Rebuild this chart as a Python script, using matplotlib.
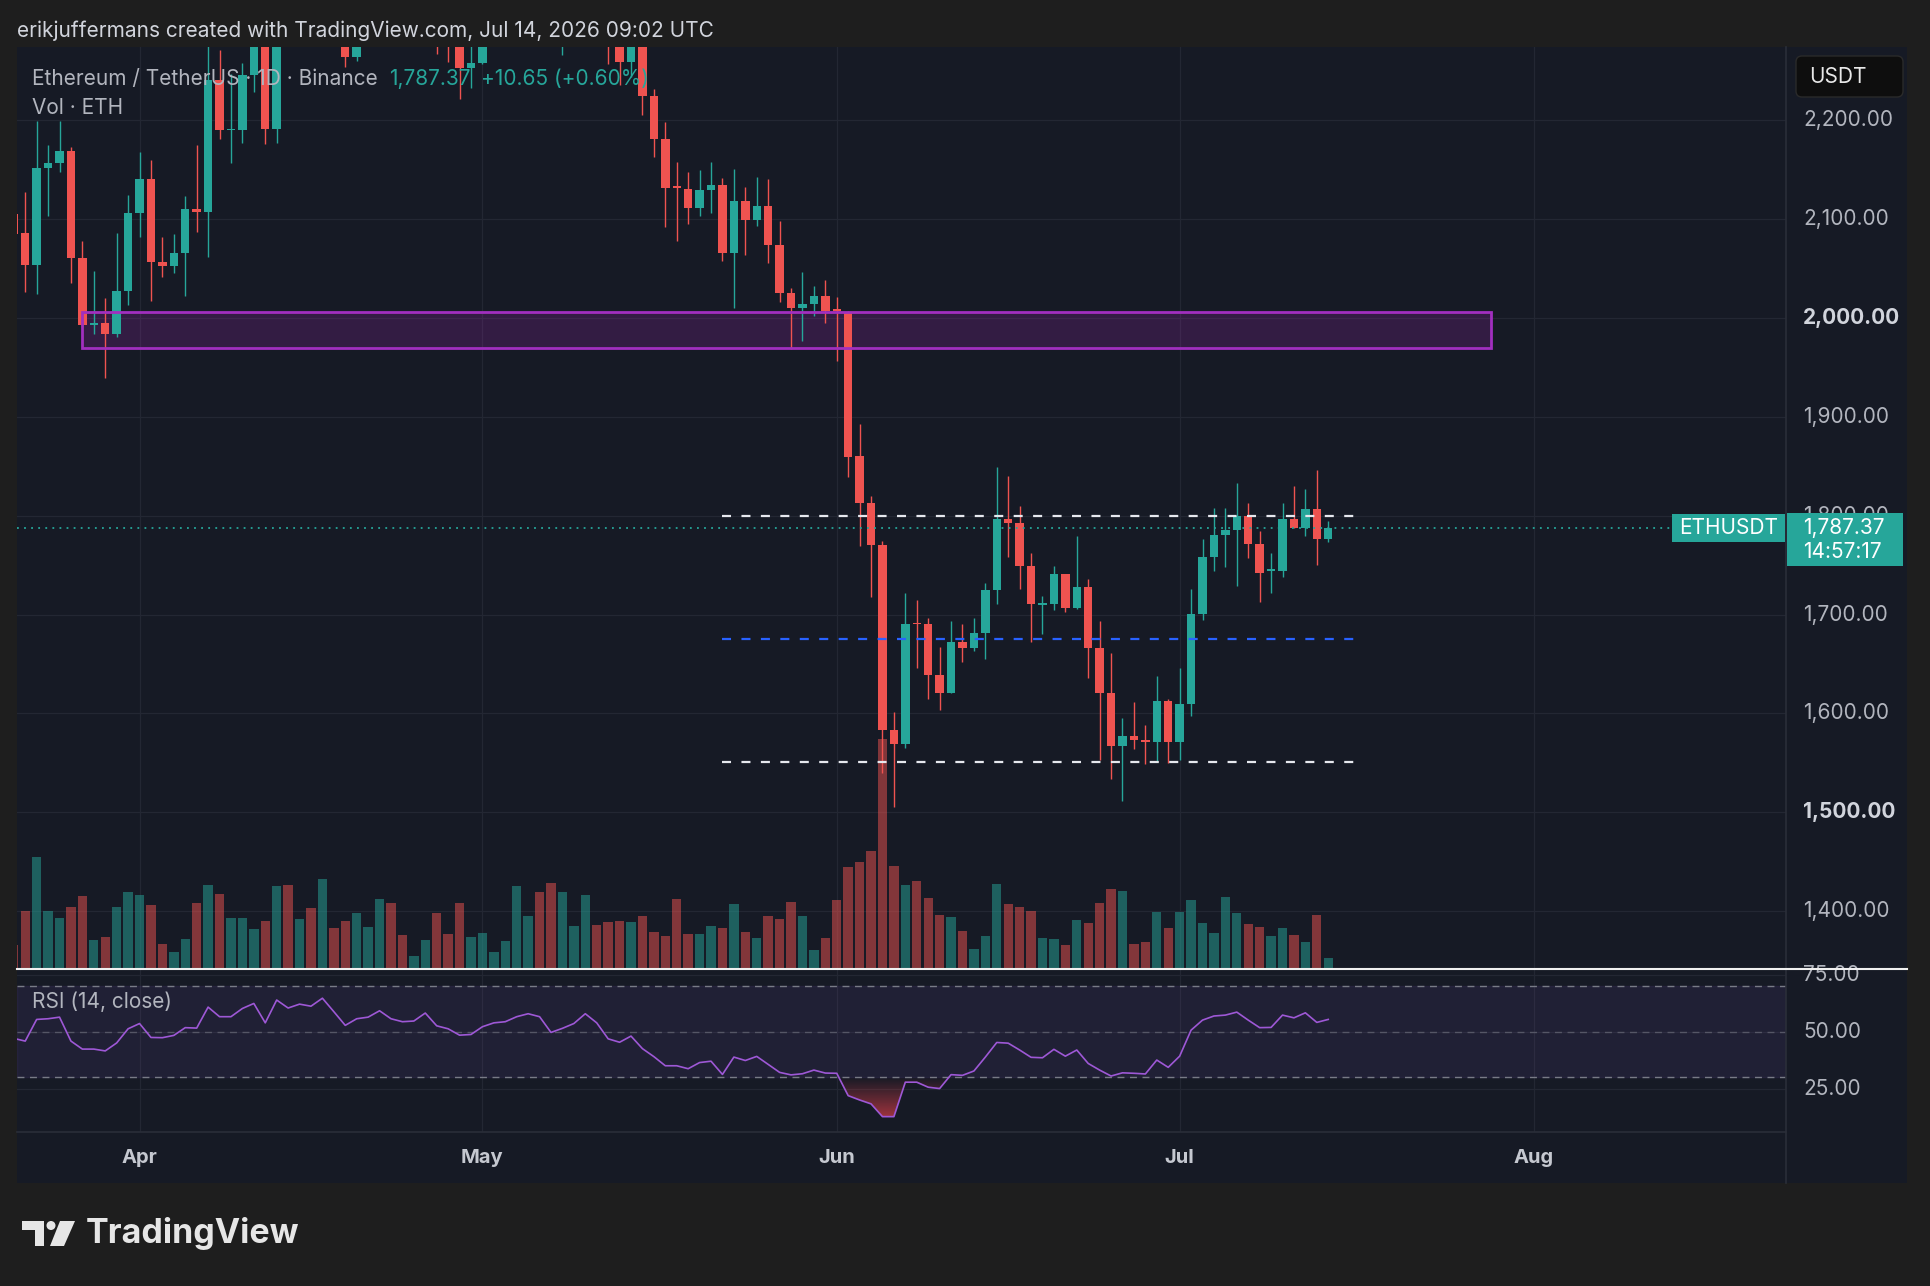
import numpy as np
import pandas as pd
import matplotlib
matplotlib.use("Agg")
import matplotlib.pyplot as plt
import matplotlib.dates as mdates
from matplotlib.patches import Rectangle, FancyBboxPatch, Polygon, Circle
from matplotlib.transforms import blended_transform_factory as blend
from matplotlib.path import Path

plt.rcParams['font.family'] = ['Inter', 'DejaVu Sans']
plt.rcParams['lines.scale_dashes'] = False

# ---------------- data ----------------
dates = pd.date_range("2026-03-21", "2026-07-14", freq="D")

opens = [2105, 2085.4, 2053.4, 2151.8, 2156.2, 2168.7, 2060.1, 1992.4, 1994.4, 1983.6,
         2027.1, 2105.6, 2140, 2056.8, 2052.7, 2065.2, 2109.7, 2107, 2240.4, 2189.9,
         2189.5, 2245.5, 2300, 2191, 2310, 2290, 2330, 2300, 2370, 2340,
         2263.4, 2310, 2330, 2380, 2340, 2320, 2325, 2355, 2300, 2285,
         2252.2, 2257.3, 2300, 2315, 2335, 2380, 2395, 2370, 2330, 2350,
         2365, 2410, 2385, 2340, 2259, 2300, 2224.3, 2180.8, 2132.6, 2130.2,
         2111.4, 2129.2, 2134.3, 2065.2, 2118.1, 2098.9, 2113, 2073.6, 2024.8, 2009.6,
         2014, 2022.4, 2008.6, 2006.2, 1860.3, 1812.4, 1770.3, 1583.3, 1568.8, 1691.8,
         1690.4, 1638.9, 1621, 1672.6, 1665.8, 1681, 1724.8, 1796.3, 1792.9, 1749.4,
         1710, 1710.7, 1741, 1706.3, 1728.2, 1666.5, 1621, 1567, 1577.5, 1573.1,
         1571.4, 1612.5, 1571.4, 1609.2, 1700.5, 1757.8, 1780.4, 1785.4, 1799.6, 1770.9,
         1744.3, 1744.3, 1796.5, 1787.1, 1806.3, 1776.72]
highs = [2120, 2126.9, 2199, 2174.7, 2199, 2172.4, 2077.3, 2047.3, 2019.7, 2085.4,
         2124.2, 2167.6, 2159.6, 2081.4, 2084.4, 2123.5, 2174.4, 2290, 2270.8, 2247,
         2258, 2315, 2310, 2325, 2340, 2345, 2350, 2395, 2385, 2350,
         2320, 2345, 2400, 2395, 2355, 2335, 2370, 2365, 2310, 2295,
         2285, 2310, 2325, 2345, 2400, 2410, 2420, 2385, 2360, 2375,
         2425, 2420, 2395, 2350, 2310, 2310, 2231, 2197.6, 2157.2, 2147,
         2149.4, 2157.2, 2141.7, 2150.5, 2132.6, 2142.7, 2140.3, 2097.9, 2030.5, 2046.7,
         2032.2, 2038.2, 2021.4, 2007, 1892.6, 1820.2, 1774.7, 1601.1, 1721.4, 1714.7,
         1696.8, 1667.5, 1693.5, 1690.4, 1696.8, 1732.2, 1849.5, 1840.1, 1810, 1761.9,
         1719.1, 1749.4, 1741, 1779.4, 1735.7, 1693.5, 1660.7, 1595, 1611.2, 1588.3,
         1637.8, 1614.5, 1646.2, 1725.4, 1776, 1807.3, 1807.3, 1833.3, 1813, 1784.4,
         1761.8, 1812.4, 1829.9, 1826.5, 1846.1, 1794.5]
lows = [2070, 2026.4, 2023.7, 2103.3, 2147, 2034.9, 1991, 1983.6, 1939.5, 1981,
        2013, 2082, 2017.3, 2041.6, 2045, 2022, 2087, 2061, 2180.5, 2157,
        2176.4, 2228.6, 2175.4, 2176.4, 2280, 2282, 2285, 2290, 2300, 2253.9,
        2260, 2290, 2315, 2320, 2300, 2305, 2310, 2266.7, 2259, 2220.9,
        2232, 2257, 2290, 2300, 2325, 2365, 2360, 2300, 2265.7, 2335,
        2355, 2370, 2257, 2235.4, 2243.8, 2205, 2163, 2092.2, 2077.7, 2094.5,
        2103.3, 2105.6, 2057.8, 2009.6, 2063.5, 2092.8, 2055.8, 2016.3, 1968.1, 1976.6,
        2002.2, 1994.4, 1956.3, 1839.4, 1769.6, 1718.1, 1540.1, 1505.8, 1564.7, 1645.6,
        1614.3, 1603.5, 1621, 1652.4, 1663.1, 1655, 1710.3, 1758.5, 1725.8, 1671.9,
        1680, 1704.6, 1703, 1706, 1636.2, 1553, 1533.3, 1511.8, 1563.7, 1548.5,
        1551.2, 1550.2, 1552.9, 1597.4, 1694.4, 1744.3, 1748.3, 1729.1, 1757.4, 1713,
        1722, 1738.2, 1787, 1779.7, 1750, 1773.6]
closes = [2085, 2053.4, 2151.8, 2156.2, 2168.7, 2060.1, 1992.7, 1994.4, 1983.6, 2027.1,
          2105.6, 2140, 2056.8, 2052.7, 2065.2, 2109.7, 2107, 2240.4, 2189.9, 2191,
          2245.5, 2300, 2191, 2310, 2290, 2330, 2300, 2370, 2340, 2263.4,
          2310, 2330, 2380, 2340, 2320, 2325, 2355, 2300, 2285, 2252.2,
          2257.3, 2300, 2315, 2335, 2380, 2395, 2370, 2330, 2350, 2365,
          2410, 2385, 2340, 2259, 2300, 2224.3, 2180.8, 2130.9, 2131.6, 2111.4,
          2129.2, 2134.3, 2065.2, 2118.1, 2098.9, 2113, 2073.6, 2024.8, 2009.6, 2014,
          2022.4, 2007.2, 2007.2, 1859.6, 1812.4, 1770.3, 1583.3, 1568.8, 1690.4, 1690.4,
          1638.9, 1621, 1672.6, 1665.8, 1681, 1724.8, 1796.3, 1792.9, 1749.4, 1710.7,
          1711.4, 1741, 1706.3, 1728.2, 1666.5, 1621, 1567, 1577.5, 1573.1, 1571.4,
          1612.5, 1571.4, 1609.2, 1700.5, 1757.8, 1780.4, 1785.4, 1799.6, 1770.9, 1742.3,
          1745.6, 1796.5, 1787.1, 1806.3, 1776.72, 1787.37]
volume_k = [73, 173, 336, 175, 153, 187, 218, 87, 95, 187,
            232, 221, 192, 76, 50, 90, 198, 253, 224, 153,
            153, 121, 143, 250, 253, 150, 182, 271, 124, 143,
            167, 126, 211, 198, 103, 40, 87, 167, 106, 198,
            95, 108, 50, 85, 250, 158, 232, 258, 232, 129,
            221, 132, 140, 145, 142, 160, 111, 98, 211, 106,
            106, 129, 124, 195, 111, 92, 158, 150, 200, 158,
            56, 92, 208, 305, 321, 355, 690, 308, 253, 263,
            213, 161, 155, 113, 61, 100, 256, 195, 185, 175,
            92, 90, 71, 146, 137, 198, 241, 235, 74, 80,
            172, 124, 172, 206, 137, 109, 216, 169, 134, 126,
            98, 122, 101, 80, 163, 32]
rsi = [47.1, 45.9, 55.4, 55.7, 56.4, 45.9, 42.4, 42.4, 41.6, 45.1,
       51.3, 53.6, 47.5, 47.4, 48.4, 51.8, 51.6, 60.8, 56.6, 56.6,
       60.2, 62.4, 53.9, 63.9, 60.4, 62.1, 61.2, 64.7, 58.8, 52.8,
       55.7, 56.4, 59.2, 55.7, 54.4, 54.7, 58.2, 52.6, 51.3, 48.5,
       48.8, 52.2, 53.9, 54.4, 56.6, 57.9, 56.6, 49.7, 51.5, 53.6,
       57.9, 53.9, 46.9, 45.4, 48.1, 42.6, 39.1, 35.1, 35.1, 33.8,
       36.5, 37.1, 31.3, 38.9, 37.4, 39.2, 35.7, 32.2, 31.1, 31.6,
       33.2, 31.9, 31.8, 22.0, 20.1, 18.4, 12.8, 12.8, 27.9, 27.9,
       25.7, 25.1, 31.2, 30.9, 32.8, 38.9, 45.3, 45.0, 42.0, 38.8,
       38.6, 42.3, 39.3, 42.0, 36.1, 33.2, 30.6, 32.0, 31.8, 31.5,
       37.6, 34.4, 39.3, 50.7, 55.1, 56.9, 57.3, 58.6, 55.1, 51.8,
       51.9, 57.3, 56.1, 58.3, 54.1, 55.4]

price_ticks = [1400, 1500, 1600, 1700, 1800, 1900, 2000, 2100, 2200]
bold_ticks = [1500, 2000]
rsi_ticks = [25, 50, 75]
month_dates = pd.to_datetime(["2026-04-01", "2026-05-01", "2026-06-01", "2026-07-01", "2026-08-01"])
month_labels = ["Apr", "May", "Jun", "Jul", "Aug"]

zone_low, zone_high = 1969.0, 2006.0
zone_start = pd.Timestamp("2026-03-27")
zone_end = pd.Timestamp("2026-07-28 05:00")
range_levels = [1800.0, 1675.5, 1551.0]
range_colors = ["#e6e8ee", "#2962ff", "#e6e8ee"]
range_start = pd.Timestamp("2026-05-22")
range_end = pd.Timestamp("2026-07-17")
last_price = 1787.37
prev_close = 1776.72
countdown = "14:57:17"

# ---------------- style ----------------
OUTER = "#1e1e1e"
PANE = "#161a25"
GRID = "#232733"
SEP = "#2a2e39"
UP = "#26a69a"
DOWN = "#ef5350"
TXT = "#b2b5be"
W, H = 1930, 1286
FS = 15
FT = 15

fig = plt.figure(figsize=(W / 100, H / 100), dpi=100, facecolor=OUTER)

def frac_rect(x0, y0, x1, y1):
    return [x0 / W, 1 - y1 / H, (x1 - x0) / W, (y1 - y0) / H]

PL, PR = 17, 1786
MT, MB = 47, 969
RB = 1132
PANEL_R, PANEL_B = 1907, 1183

bg = fig.add_axes([0, 0, 1, 1])
bg.set_xlim(0, W); bg.set_ylim(H, 0); bg.axis('off')
bg.add_patch(Rectangle((PL, MT), PANEL_R - PL, PANEL_B - MT, facecolor=PANE, edgecolor='none'))

vol_ax = fig.add_axes(frac_rect(PL, MT, PR, MB))
vol_ax.set_facecolor('none'); vol_ax.axis('off')
ax = fig.add_axes(frac_rect(PL, MT, PR, MB), sharex=vol_ax)
ax.set_facecolor('none'); ax.axis('off')
rax = fig.add_axes(frac_rect(PL, MB, PR, RB), sharex=vol_ax)
rax.set_facecolor('none'); rax.axis('off')

x = mdates.date2num(dates)
o = np.array(opens); h = np.array(highs); l = np.array(lows); c = np.array(closes)
up = c >= o
ccol = np.where(up, UP, DOWN)

x_apr = mdates.date2num(pd.Timestamp("2026-04-01"))
xlim = (x_apr - 10.72, x_apr + 144.05)
vol_ax.set_xlim(*xlim)
ax.set_ylim(1341.6, 2273.8)
vol_ax.set_ylim(0, 2766)
rax.set_ylim(6.07, 77.5)

# grid
Tg = blend(vol_ax.transAxes, ax.transData)
for p in price_ticks:
    vol_ax.plot([0, 1], [p, p], transform=Tg, color=GRID, lw=0.9, zorder=0)
for m in month_dates:
    vol_ax.axvline(mdates.date2num(m), color=GRID, lw=0.9, zorder=0)
    rax.axvline(mdates.date2num(m), color=GRID, lw=0.9, zorder=0)
for r in rsi_ticks:
    rax.axhline(r, color=GRID, lw=0.9, zorder=0)

# volume
vcol = np.where(up, UP, DOWN)
vol_ax.bar(x, volume_k, width=0.82, color=vcol, alpha=0.5, linewidth=0, zorder=1)

# zone
zx0 = mdates.date2num(zone_start)
zw = mdates.date2num(zone_end) - zx0
ax.add_patch(Rectangle((zx0, zone_low), zw, zone_high - zone_low, facecolor="#9c27b0",
                       alpha=0.22, edgecolor='none', zorder=1))
ax.add_patch(Rectangle((zx0, zone_low), zw, zone_high - zone_low, facecolor='none',
                       edgecolor="#a12fbf", lw=2.0, zorder=4))

# candles
ax.vlines(x, l, h, colors=ccol, lw=1.0, zorder=3)
body_lo = np.minimum(o, c)
body_h = np.maximum(np.abs(c - o), 1.2)
ax.bar(x, body_h, bottom=body_lo, width=0.74, color=ccol, linewidth=0, zorder=3)

# range lines
for lev, col in zip(range_levels, range_colors):
    ax.plot([mdates.date2num(range_start), mdates.date2num(range_end)], [lev, lev],
            color=col, lw=1.6, linestyle=(0, (6.5, 7.5)), zorder=5)

# last price dotted line
Tl = blend(ax.transAxes, ax.transData)
ax.plot([0, 0.9356], [last_price, last_price], transform=Tl, color=UP, lw=1.3,
        linestyle=(0, (1.3, 3.8)), zorder=5, clip_on=False)

# price axis labels
for p in price_ticks:
    bold = p in bold_ticks
    ax.text(1.0096, p, f"{p:,.2f}", transform=Tl, ha='left', va='center',
            fontsize=FS, color="#d1d4dc" if bold else TXT,
            fontweight='bold' if bold else 'normal', clip_on=False, zorder=6)

# last price labels
ax.add_patch(Rectangle((1.0006, 1748.9), 0.0656, 53.6, transform=Tl, facecolor=UP,
                       edgecolor='none', clip_on=False, zorder=8))
ax.text(1.0096, last_price, f"{last_price:,.2f}", transform=Tl, ha='left', va='center',
        fontsize=FS, color='white', clip_on=False, zorder=9)
ax.text(1.0096, last_price - 24.3, countdown, transform=Tl, ha='left', va='center',
        fontsize=FS, color='white', clip_on=False, zorder=9)
ax.add_patch(Rectangle((0.9356, 1773.0), 0.0638, 28.8, transform=Tl, facecolor=UP,
                       edgecolor='none', clip_on=False, zorder=8))
ax.text(0.9675, last_price, "ETHUSDT", transform=Tl, ha='center', va='center',
        fontsize=FS, color='white', clip_on=False, zorder=9)

# RSI pane
rx = x
rv = np.array(rsi)
rax.axhspan(30, 70, color="#7e57c2", alpha=0.10, zorder=0.5)
rax.axhline(70, color="#787b86", lw=1.0, linestyle=(0, (5, 4)), zorder=1)
rax.axhline(30, color="#787b86", lw=1.0, linestyle=(0, (5, 4)), zorder=1)
rax.axhline(50, color="#787b86", lw=1.0, alpha=0.55, linestyle=(0, (5, 4)), zorder=1)
fb = rax.fill_between(rx, rv, 30, where=rv < 30, interpolate=True,
                      facecolor='none', edgecolor='none')
paths = fb.get_paths()
if len(paths):
    cp = Path.make_compound_path(*paths)
    rgba = np.zeros((256, 1, 4))
    rgba[..., 0] = 0.94; rgba[..., 1] = 0.26; rgba[..., 2] = 0.30
    rgba[..., 3] = np.linspace(0.8, 0.0, 256)[:, None]
    im = rax.imshow(rgba, extent=[rx[0], rx[-1], 8, 30], origin='lower',
                    aspect='auto', zorder=2, interpolation='bilinear')
    im.set_clip_path(cp, transform=rax.transData)
rax.plot(rx, rv, color="#9e58d6", lw=1.2, zorder=3)
rax.set_xlim(*xlim)
rax.set_ylim(6.07, 77.5)

Tr = blend(rax.transAxes, rax.transData)
for r in rsi_ticks:
    rax.text(1.0096, r, f"{r:.2f}", transform=Tr, ha='left', va='center',
             fontsize=FS, color=TXT, clip_on=False, zorder=4)
Tm = blend(rax.transData, rax.transAxes)
for m, lab in zip(month_dates, month_labels):
    rax.text(mdates.date2num(m), -0.16, lab, transform=Tm, ha='center', va='center',
             fontsize=14.5, color="#c5c8d0", fontweight='bold', clip_on=False)

# overlay
ov = fig.add_axes([0, 0, 1, 1])
ov.set_xlim(0, W); ov.set_ylim(H, 0); ov.axis('off')
ov.plot([PR, PR], [MT, PANEL_B], color=SEP, lw=1.2)
ov.plot([PL, PR], [RB, RB], color=SEP, lw=1.2)
ov.plot([PL, PANEL_R], [MB, MB], color="#f0f0f0", lw=1.5)
ov.add_patch(FancyBboxPatch((1796, 56), 107, 41, boxstyle="round,pad=0,rounding_size=6",
                            facecolor="#0e0e0e", edgecolor="#2a2a2a", lw=1))
ov.text(1809, 77, "USDT", ha='left', va='center', fontsize=FS, color="#e8e8e8")

ov.text(17, 31, "erikjuffermans created with TradingView.com, Jul 14, 2026 09:02 UTC",
        ha='left', va='center', fontsize=FT, color="#d1d4dc")
ov.text(32, 79, "Ethereum / TetherUS · 1D · Binance", ha='left', va='center',
        fontsize=FT, color=TXT)
chg = last_price - prev_close
ov.text(389, 79, f"{last_price:,.2f}", ha='left', va='center', fontsize=FT, color=UP)
ov.text(481, 79, f"+{chg:.2f} (+{chg / prev_close * 100:.2f}%)", ha='left', va='center',
        fontsize=FT, color=UP)
ov.text(32, 108, "Vol · ETH", ha='left', va='center', fontsize=FT, color=TXT)
ov.text(32, 1002, "RSI (14, close)", ha='left', va='center', fontsize=FT, color=TXT)

# TradingView logo
LOGO = "#e6e6e6"
ov.add_patch(Polygon([(22, 1221), (44, 1221), (44, 1246), (35, 1246), (35, 1230), (22, 1230)],
                     closed=True, facecolor=LOGO, edgecolor='none'))
ov.add_patch(Circle((51, 1225.5), 4.5, facecolor=LOGO, edgecolor='none'))
ov.add_patch(Polygon([(60, 1221), (75, 1221), (64, 1246), (50, 1246)], closed=True,
                     facecolor=LOGO, edgecolor='none'))
ov.text(86, 1233, "TradingView", ha='left', va='center', fontsize=24.5, fontweight='bold',
        color=LOGO)

fig.savefig("out.png", dpi=100, facecolor=OUTER)
